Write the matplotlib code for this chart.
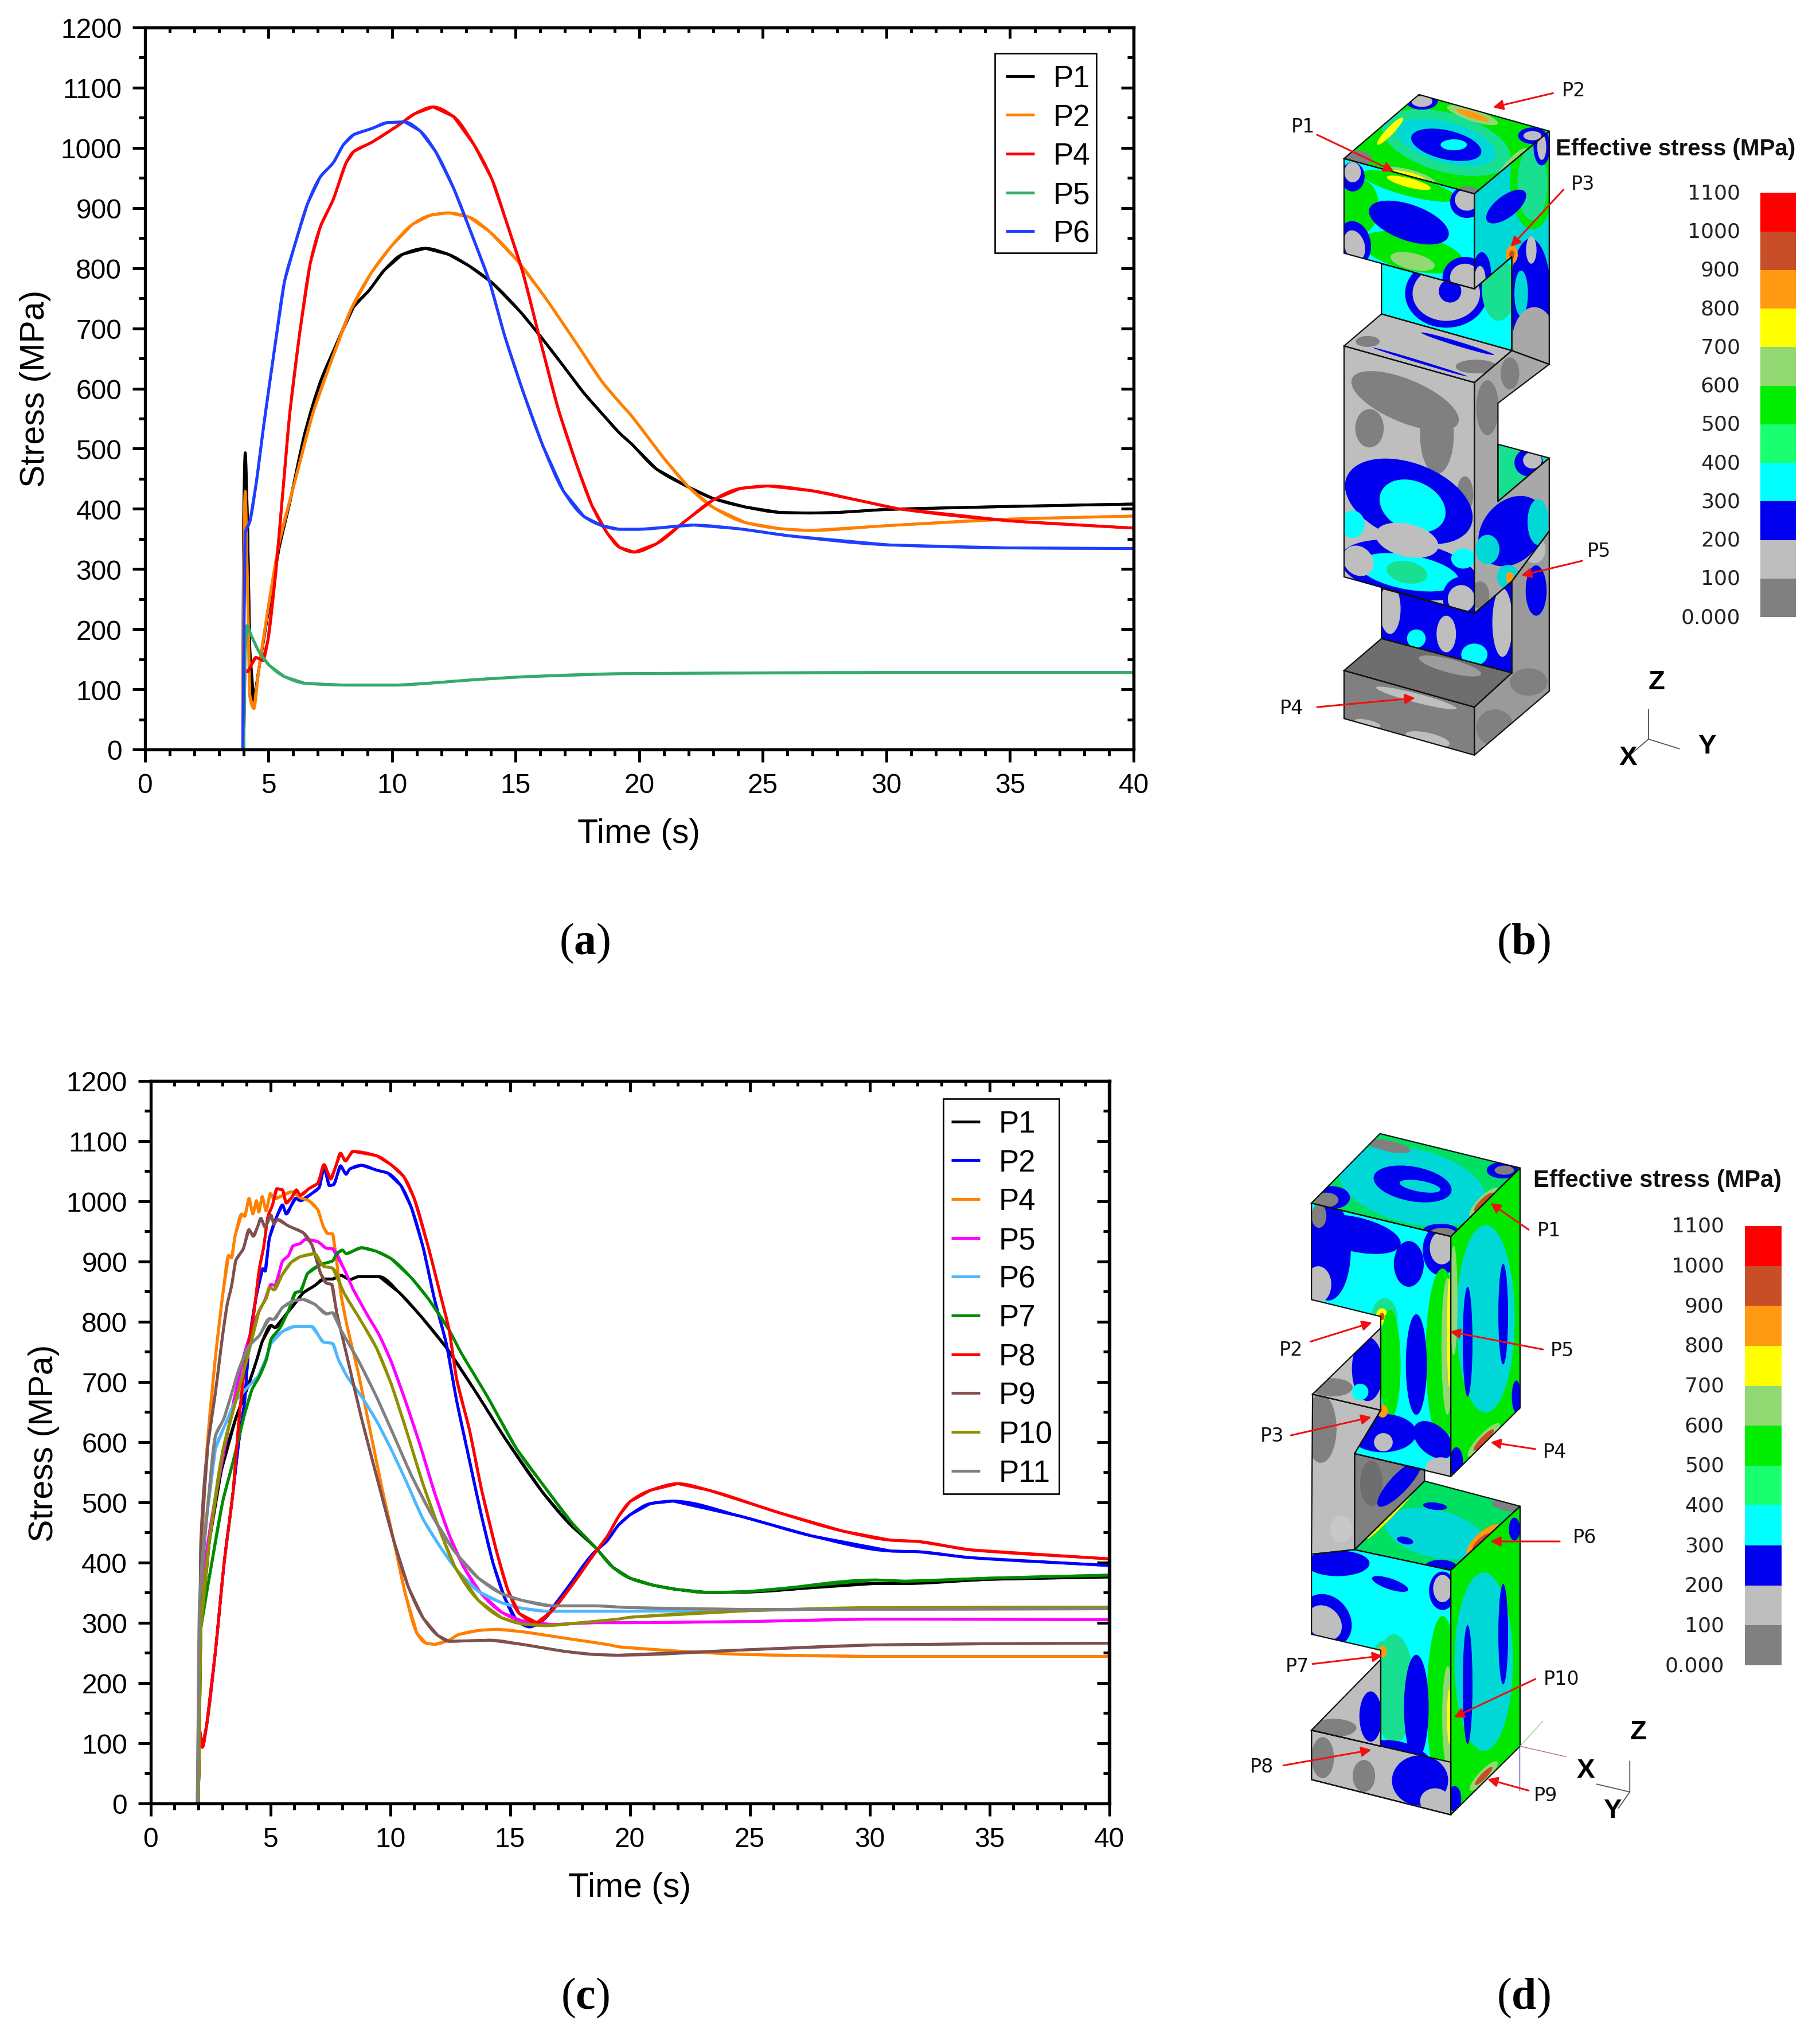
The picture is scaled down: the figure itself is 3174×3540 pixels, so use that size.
import matplotlib
matplotlib.use("Agg")
import matplotlib.pyplot as plt
from matplotlib.patches import Polygon, Ellipse, Rectangle, PathPatch
from matplotlib.path import Path

plt.rcParams['font.family'] = ['Liberation Sans', 'DejaVu Sans']
plt.rcParams['mathtext.fontset'] = 'custom'
plt.rcParams['mathtext.rm'] = 'Liberation Serif'
plt.rcParams['mathtext.bf'] = 'Liberation Serif:bold'

W, H = 3174, 3541
DPI = 100

# ---------- chart (a) ----------
a_labels = ['P1', 'P2', 'P4', 'P5', 'P6']
a_colors = ['#000000', '#FF8000', '#FF0000', '#36AB6B', '#1F3FFF']
a_p1_t = [3.97, 3.99, 4.06, 4.15, 4.25, 4.41, 4.61, 5.03, 5.44, 5.86, 6.48, 7.1, 7.72, 8.45, 9.07, 9.69, 10.42, 11.35,
          12.28, 13.11, 14.04, 15.18, 16.0, 16.94, 17.77, 18.5, 19.2, 19.66, 20.7, 22.0, 23.0, 24.3, 25.7, 26.9, 28.0, 30.0, 35.0, 40.0]
a_p1_s = [0, 360, 493, 383, 163, 80, 133, 239, 337, 410, 527, 611, 671, 736, 763, 797, 823, 833,
          823, 804, 776, 728, 687, 637, 592, 558, 526, 509, 466, 436, 417, 403, 394, 393, 394, 399, 404, 408]
a_p2_t = [3.97, 3.99, 4.06, 4.15, 4.25, 4.41, 4.61, 5.03, 5.44, 6.06, 6.79, 7.5, 8.34, 9.17, 10.0, 10.83, 11.55, 12.28,
          13.11, 13.94, 15.08, 16.2, 17.46, 18.5, 19.2, 19.66, 21.0, 22.0, 23.0, 24.3, 25.7, 26.9, 30.0, 35.0, 40.0]
a_p2_s = [0, 300, 429, 277, 87, 68, 133, 246, 345, 444, 558, 641, 732, 793, 838, 873, 888, 892,
          885, 861, 812, 751, 675, 611, 577, 556, 484, 436, 402, 377, 367, 364, 372, 383, 388]
a_p4_t = [4.0, 4.05, 4.15, 4.3, 4.49, 4.77, 4.98, 5.29, 5.55, 5.86, 6.27, 6.69, 7.1, 7.62, 8.14, 8.45, 9.17, 10.2, 10.93, 11.66,
          12.49, 13.32, 14.04, 14.66, 15.29, 16.0, 16.73, 17.46, 18.08, 18.7, 19.2, 19.8, 20.7, 21.9, 23.0, 24.1, 25.2, 27.0, 29.0, 30.5, 35.0, 40.0]
a_p4_s = [0, 132, 129, 140, 153, 148, 182, 292, 413, 558, 694, 808, 869, 914, 975, 994, 1009, 1036, 1057, 1068,
          1052, 1005, 948, 873, 793, 679, 565, 474, 406, 360, 336, 328, 342, 381, 415, 434, 438, 430, 413, 400, 380, 368]
a_p5_t = [4.0, 4.06, 4.13, 4.3, 4.61, 5.03, 5.65, 6.48, 8.14, 10.2, 11.76, 13.32, 15.4, 19.2, 30.0, 40.0]
a_p5_s = [0, 163, 206, 190, 163, 140, 121, 110, 107, 107, 111, 116, 121, 126, 128, 128]
a_p6_t = [3.96, 4.06, 4.25, 4.51, 4.82, 5.24, 5.65, 6.06, 6.58, 7.1, 7.62, 8.03, 8.45, 9.17, 9.8, 10.52, 11.14, 11.76,
          12.49, 13.32, 13.94, 14.56, 15.29, 16.1, 16.94, 17.77, 18.5, 19.2, 20.0, 22.2, 24.0, 26.1, 30.1, 35.0, 40.0]
a_p6_s = [0, 360, 379, 444, 542, 664, 778, 838, 907, 952, 975, 1005, 1022, 1032, 1042, 1043, 1028, 994,
          933, 846, 778, 687, 596, 505, 429, 387, 372, 366, 366, 373, 367, 355, 340, 335, 334]

# ---------- chart (c) ----------
c_labels = ['P1', 'P2', 'P4', 'P5', 'P6', 'P7', 'P8', 'P9', 'P10', 'P11']
c_colors = ['#000000', '#0000FF', '#FF8000', '#FF00FF', '#4DB8FF', '#008C00', '#FF0000', '#804F4F', '#8F8F00', '#808080']
c_p1_t = [2.0, 2.1, 2.46, 2.95, 3.56, 4.05, 4.42, 4.66, 5.03, 5.2, 5.57, 6.0, 6.37, 6.85, 7.22, 7.6, 7.95, 8.32, 8.68, 9.54,
          10.39, 11.24, 12.34, 13.56, 14.78, 16.37, 17.46, 18.56, 19.29, 20.0, 21.0, 22.0, 23.3, 25.0, 30.2, 31.5, 35.0, 40.0]
c_p1_s = [0, 290, 436, 552, 640, 691, 735, 767, 794, 790, 808, 829, 848, 860, 871, 871, 877, 870, 875, 875,
          848, 811, 757, 684, 607, 516, 465, 425, 392, 374, 362, 355, 350, 351, 365, 365, 372, 376]
c_p2_t = [2.0, 2.04, 2.16, 2.34, 2.71, 3.07, 3.44, 3.68, 3.93, 4.11, 4.42, 4.68, 4.78, 4.96, 5.27, 5.51, 5.66, 6.06, 6.25, 6.73, 7.04, 7.24, 7.46, 7.65, 7.93, 8.16, 8.32, 8.8, 9.42, 9.9,
          10.45, 10.88, 11.37, 11.85, 12.34, 12.77, 13.32, 13.8, 14.29, 14.78, 15.27, 15.82, 16.37, 17.34, 18.44, 19.05, 19.52, 20.0, 20.86, 21.8, 24.6, 27.6, 30.9, 32.0, 34.2, 40.0]
c_p2_s = [0, 122, 93, 129, 253, 399, 516, 600, 669, 764, 844, 888, 884, 939, 975, 994, 979, 1005, 1001, 1013, 1023, 1057, 1026, 1028, 1059, 1045, 1054, 1060, 1052, 1047,
          1026, 990, 924, 837, 764, 669, 567, 479, 399, 341, 304, 293, 304, 355, 414, 436, 462, 479, 498, 502, 477, 444, 419, 418, 408, 395]
c_p4_t = [2.0, 2.1, 2.34, 2.71, 3.01, 3.26, 3.38, 3.53, 3.81, 3.93, 4.11, 4.27, 4.42, 4.52, 4.66, 4.82, 5.0, 5.15, 5.9, 6.25, 6.61, 6.98, 7.22, 7.4, 7.6, 7.71, 7.95, 8.2, 8.68, 9.17, 9.66, 10.15, 10.63,
          11.12, 11.49, 11.85, 12.46, 12.83, 13.68, 14.42, 15.5, 17.34, 19.17, 19.52, 21.9, 24.9, 30.0, 40.0]
c_p4_s = [0, 399, 581, 742, 844, 910, 906, 943, 979, 975, 1005, 979, 1001, 982, 1008, 984, 1013, 1004, 1016, 1006, 1001, 986, 957, 946, 946, 917, 844, 793, 713, 618, 523, 436, 348,
          282, 266, 264, 271, 280, 287, 289, 285, 274, 263, 260, 253, 247, 244, 244]
c_p5_t = [2.0, 2.1, 2.46, 2.95, 3.44, 3.93, 4.42, 4.78, 5.03, 5.2, 5.51, 5.76, 5.94, 6.25, 6.46, 6.98, 7.34, 7.6, 8.07, 8.44, 9.05, 9.54, 10.03, 10.63, 11.24, 11.85, 12.46, 13.07, 13.8, 14.66, 15.5, 16.73, 18.56, 20.0, 25.0, 30.2, 40.0]
c_p5_s = [0, 326, 450, 560, 662, 749, 808, 837, 862, 860, 901, 910, 926, 930, 937, 933, 922, 921, 888, 855, 811, 778, 735, 669, 596, 516, 446, 392, 348, 317, 303, 297, 300, 300, 302, 306, 305]
c_p6_t = [2.0, 2.1, 2.34, 2.71, 3.07, 3.56, 4.05, 4.48, 4.78, 5.03, 5.51, 6.0, 6.73, 7.22, 7.6, 7.83, 8.2, 8.8, 9.42, 10.03, 10.63, 11.37, 12.1, 12.83, 13.68, 14.66, 15.5, 16.49, 17.95, 20.0, 30.0, 40.0]
c_p6_s = [0, 363, 472, 589, 625, 669, 691, 709, 735, 764, 784, 792, 792, 766, 764, 738, 709, 676, 636, 589, 538, 472, 425, 385, 352, 333, 324, 319, 319, 319, 323, 323]
c_p7_t = [2.0, 2.1, 2.46, 3.01, 3.44, 3.93, 4.23, 4.54, 4.84, 5.03, 5.39, 5.76, 6.06, 6.25, 6.55, 7.1, 7.6, 7.77, 8.01, 8.16, 8.8, 9.42, 10.03, 10.88, 11.61, 12.46, 12.95, 14.05, 15.27, 16.49, 17.6, 18.56, 19.29, 20.0, 21.0, 22.0, 23.3, 25.0, 30.2, 31.5, 35.0, 40.0]
c_p7_s = [0, 290, 377, 501, 567, 647, 687, 709, 738, 771, 789, 819, 849, 850, 880, 895, 901, 913, 919, 913, 923, 917, 905, 873, 837, 786, 749, 676, 589, 523, 465, 425, 392, 374, 362, 355, 350, 352, 371, 369, 374, 379]
c_p8_t = [2.0, 2.04, 2.16, 2.34, 2.71, 3.07, 3.44, 3.68, 3.93, 4.29, 4.54, 4.72, 4.9, 5.09, 5.27, 5.51, 5.66, 5.88, 6.09, 6.25, 6.61, 6.98, 7.24, 7.52, 7.71, 7.93, 8.13, 8.44, 9.42, 10.03, 10.57,
          11.0, 11.61, 12.1, 12.46, 12.77, 13.32, 13.8, 14.42, 14.9, 15.39, 16.12, 16.73, 17.6, 18.56, 19.05, 19.52, 20.0, 20.86, 22.0, 23.3, 26.2, 28.9, 30.9, 32.0, 34.2, 40.0]
c_p8_s = [0, 122, 93, 129, 253, 399, 516, 632, 727, 808, 888, 924, 975, 994, 1021, 1019, 997, 1006, 1019, 1010, 1021, 1030, 1061, 1037, 1056, 1080, 1067, 1083, 1076, 1061, 1041,
          1005, 921, 844, 786, 705, 618, 523, 421, 355, 315, 300, 319, 363, 417, 443, 476, 501, 520, 531, 520, 483, 452, 437, 435, 421, 406]
c_p9_t = [2.0, 2.1, 2.4, 2.71, 3.01, 3.2, 3.38, 3.56, 3.87, 4.11, 4.29, 4.48, 4.6, 4.78, 5.03, 5.15, 5.29, 5.76, 6.37, 6.73, 7.1, 7.34, 7.56, 7.77, 8.2, 8.8, 9.42, 10.15, 10.76, 11.37, 11.98, 12.46, 13.32, 14.17, 15.5, 17.34, 18.56, 19.52, 24.9, 30.2, 35.0, 40.0]
c_p9_s = [0, 436, 596, 683, 778, 829, 859, 902, 921, 953, 942, 959, 972, 957, 977, 962, 970, 959, 948, 928, 880, 864, 862, 815, 742, 640, 545, 436, 359, 308, 279, 269, 270, 271, 264, 252, 247, 246, 255, 263, 265, 266]
c_p10_t = [2.0, 2.1, 2.46, 3.01, 3.56, 4.05, 4.54, 4.84, 4.96, 5.15, 5.51, 5.88, 6.25, 6.85, 7.22, 7.6, 8.07, 8.8, 9.42, 10.03, 10.63, 11.37, 12.1, 12.71, 13.68, 14.66, 15.5, 16.49, 17.95, 19.52, 20.0, 25.0, 30.0, 40.0]
c_p10_s = [0, 290, 436, 585, 669, 742, 819, 840, 857, 853, 879, 899, 908, 913, 892, 889, 848, 800, 757, 698, 625, 530, 450, 392, 337, 308, 298, 295, 300, 306, 309, 320, 325, 326]
c_p11_t = [1.95, 2.04, 2.4, 2.71, 3.05, 3.38, 3.68, 4.11, 4.54, 4.96, 5.15, 5.51, 6.0, 6.37, 6.85, 7.34, 7.6, 7.95, 8.68, 9.42, 10.15, 10.88, 11.73, 12.71, 13.68, 14.66, 15.5, 16.73, 18.56, 20.0, 25.0, 40.0]
c_p11_s = [0, 333, 500, 611, 638, 680, 720, 760, 777, 805, 804, 824, 835, 837, 829, 813, 815, 786, 735, 676, 611, 545, 479, 417, 374, 348, 337, 328, 328, 325, 322, 323]

x_ticks = [0, 5, 10, 15, 20, 25, 30, 35, 40]
x_minor = [t for t in range(0, 41) if t % 5]
y_ticks = list(range(0, 1201, 100))
y_minor = list(range(50, 1200, 100))

bands = ['#FF0000', '#C84E28', '#FF9A12', '#FFFF00', '#92D873', '#00EE00', '#19FF70', '#00FFFF', '#0000EE', '#BEBEBE', '#808080']
bar_labels = ['1100', '1000', '900', '800', '700', '600', '500', '400', '300', '200', '100', '0.000']

fig = plt.figure(figsize=(W / DPI, H / DPI), dpi=DPI, facecolor='white')


def px_axes(l, t, r, b):
    return fig.add_axes([l / W, 1 - b / H, (r - l) / W, (b - t) / H])


def smooth_path(tt, ss):
    """Bezier path through the read points, with monotone (no overshoot) tangents."""
    n = len(tt)
    d = [(ss[i + 1] - ss[i]) / (tt[i + 1] - tt[i]) for i in range(n - 1)]
    m = [d[0]] + [0.0] * (n - 2) + [d[-1]]
    for i in range(1, n - 1):
        if d[i - 1] * d[i] > 0:
            m[i] = 2 * d[i - 1] * d[i] / (d[i - 1] + d[i])
    verts = [(tt[0], ss[0])]
    codes = [Path.MOVETO]
    for i in range(n - 1):
        h = (tt[i + 1] - tt[i]) / 3
        verts += [(tt[i] + h, ss[i] + m[i] * h), (tt[i + 1] - h, ss[i + 1] - m[i + 1] * h), (tt[i + 1], ss[i + 1])]
        codes += [Path.CURVE4] * 3
    return Path(verts, codes)


def chart(box, series, labels, colors, legend_xy, frame):
    ax = px_axes(*box)
    for (tt, ss), lab, col in zip(series, labels, colors):
        ax.plot(tt, ss, color=col, lw=3.5, label=lab, solid_joinstyle='round', solid_capstyle='butt')
        ax.add_patch(PathPatch(smooth_path(tt, ss), fill=False, edgecolor=col, lw=3.5, zorder=2,
                               capstyle='butt', joinstyle='round'))
    ax.set_xlim(0, 40)
    ax.set_ylim(0, 1200)
    ax.set_xticks(x_ticks)
    ax.set_xticks(x_minor, minor=True)
    ax.set_yticks(y_ticks)
    ax.set_yticks(y_minor, minor=True)
    ax.tick_params(which='major', length=16, width=3.6, labelsize=34.5, pad=13, direction='out')
    ax.tick_params(which='minor', length=8, width=3.6, direction='out')
    for s in ax.spines.values():
        s.set_linewidth(3.8)
    top = ax.secondary_xaxis('top')
    top.set_xticks(x_ticks, labels=[])
    top.set_xticks(x_minor, minor=True)
    top.tick_params(which='major', direction='in', length=14, width=3.6)
    top.tick_params(which='minor', direction='in', length=6.5, width=3.6)
    right = ax.secondary_yaxis('right')
    right.set_yticks(y_ticks, labels=[])
    right.set_yticks(y_minor, minor=True)
    right.tick_params(which='major', direction='in', length=16, width=3.6)
    right.tick_params(which='minor', direction='in', length=8, width=3.6)
    for sec in (top, right):
        for s in sec.spines.values():
            s.set_linewidth(3.8)
    ax.legend(loc='upper left', bbox_to_anchor=legend_xy, bbox_transform=fig.transFigure,
              fontsize=38, frameon=False, borderaxespad=0, handlelength=0.95, handletextpad=0.62,
              labelspacing=0.335, borderpad=0.36)
    x0, y0, x1, y1 = frame
    fig.add_artist(Rectangle((x0 / W, 1 - y1 / H), (x1 - x0) / W, (y1 - y0) / H, transform=fig.transFigure,
                             fill=False, edgecolor='black', lw=1.9, zorder=5))
    return ax


a_series = [(a_p1_t, a_p1_s), (a_p2_t, a_p2_s), (a_p4_t, a_p4_s), (a_p5_t, a_p5_s), (a_p6_t, a_p6_s)]
c_series = [(c_p1_t, c_p1_s), (c_p2_t, c_p2_s), (c_p4_t, c_p4_s), (c_p5_t, c_p5_s), (c_p6_t, c_p6_s),
            (c_p7_t, c_p7_s), (c_p8_t, c_p8_s), (c_p9_t, c_p9_s), (c_p10_t, c_p10_s), (c_p11_t, c_p11_s)]

chart((252.6, 49, 1977, 1308), a_series, a_labels, a_colors, (1735 / W, 1 - 94 / H), (1735, 94, 1912, 442))
chart((262.5, 1886, 1934.5, 3145.6), c_series, c_labels, c_colors, (1640 / W, 1 - 1917 / H), (1645, 1917, 1847, 2606))


def ftext(x, y, s, **kw):
    fig.text(x / W, 1 - y / H, s, ha=kw.pop('ha', 'center'), va=kw.pop('va', 'center'), **kw)


ftext(62, 678, 'Stress (MPa)', rotation=90, fontsize=42.5)
ftext(1114, 1455, 'Time (s)', fontsize=42.5)
ftext(77, 2517, 'Stress (MPa)', rotation=90, fontsize=42.5)
ftext(1098, 3293, 'Time (s)', fontsize=42.5)

for x, y, c in [(1020, 1645, 'a'), (2657, 1645, 'b'), (1020, 3484, 'c'), (2657, 3484, 'd')]:
    ftext(x, y, '(' + r'$\mathbf{' + c + '}$' + ')', fontsize=56, family='Liberation Serif')

# ---------- FE contour illustrations ----------
BLUE, CYAN, DCYAN, SPRING = '#0000EE', '#00FFFF', '#00D8D8', '#19E090'
GREEN, LG, YEL, ORG, BRICK = '#00E800', '#92D873', '#FFFF00', '#FF9A12', '#C84E28'
GRY, DGR, DDG = '#BEBEBE', '#808080', '#6E6E6E'


def face(ax, poly, base, blobs=()):
    p = Polygon(poly, closed=True, facecolor=base, edgecolor='none', zorder=1)
    ax.add_patch(p)
    for cx, cy, rx, ry, ang, col in blobs:
        e = Ellipse((cx, cy), 2 * rx, 2 * ry, angle=ang, facecolor=col, edgecolor='none', zorder=1)
        ax.add_patch(e)
        e.set_clip_path(p)
    ax.add_patch(Polygon(poly, closed=True, fill=False, edgecolor='#111111', lw=1.6, zorder=2))


def pic_axes(x0, y0):
    ax = px_axes(x0, y0, x0 + 1024, y0 + 1250)
    ax.set_xlim(0, 1568)
    ax.set_ylim(1568, 0)
    ax.axis('off')
    return ax


def arrow(ax, a, b):
    ax.annotate('', xy=b, xytext=a, zorder=5,
                arrowprops=dict(arrowstyle='-|>', color='#F01010', lw=2.2, mutation_scale=26, shrinkA=0, shrinkB=0))


def colorbar(ax, x0, x1, y0, y1, lab_x, title_xy, title_fs):
    n = len(bands)
    h = (y1 - y0) / n
    for i, c in enumerate(bands):
        ax.add_patch(Rectangle((x0, y0 + i * h), x1 - x0, h, facecolor=c, edgecolor='none'))
    for i, s in enumerate(bar_labels):
        ax.text(lab_x, y0 + i * h, s, ha='right', va='center', fontsize=26, color='#222222', family='DejaVu Sans')
    ax.text(title_xy[0], title_xy[1], 'Effective stress (MPa)', ha='right', va='center',
            fontsize=title_fs, fontweight='bold', color='#111111')


# (b)
bx = pic_axes(2150, 130)
face(bx, [(397, 415), (645, 470), (745, 400), (745, 605), (397, 525)], CYAN,
     [(570, 480, 110, 75, 0, BLUE), (570, 480, 90, 60, 0, GRY), (580, 475, 30, 25, 0, BLUE), (710, 470, 45, 70, 0, SPRING),
      (500, 560, 150, 12, 12, GREEN)])
face(bx, [(645, 262), (845, 125), (845, 635), (745, 605), (745, 400), (645, 470)], DCYAN,
     [(800, 230, 60, 110, 0, GREEN), (800, 240, 40, 80, 0, SPRING), (730, 290, 60, 25, -30, BLUE), (665, 440, 25, 50, 0, BLUE), (660, 450, 15, 30, 0, GRY),
      (825, 160, 22, 40, 0, BLUE), (825, 160, 12, 28, 0, GRY), (795, 490, 55, 130, 0, BLUE), (797, 385, 14, 30, 0, GRY), (770, 480, 18, 50, 0, DCYAN),
      (805, 590, 60, 80, 0, '#A8A8A8'), (745, 395, 16, 20, 0, ORG), (745, 395, 7, 9, 0, BRICK)])
face(bx, [(297, 185), (497, 45), (845, 125), (645, 262)], GREEN,
     [(570, 150, 175, 65, 12, SPRING), (570, 150, 135, 45, 12, DCYAN), (570, 155, 95, 32, 10, BLUE), (590, 155, 35, 12, 0, CYAN),
      (640, 90, 70, 13, 15, LG), (640, 90, 45, 7, 15, ORG), (420, 125, 45, 9, -40, YEL), (745, 195, 50, 11, -40, LG),
      (505, 60, 42, 18, 0, BLUE), (505, 60, 28, 12, 0, GRY), (800, 135, 38, 18, 0, BLUE), (800, 135, 24, 10, 0, GRY),
      (330, 185, 40, 18, 0, DGR), (470, 225, 75, 16, 12, LG), (470, 225, 50, 10, 12, YEL), (625, 262, 35, 16, 0, DGR)])
face(bx, [(297, 185), (645, 262), (645, 470), (297, 392)], CYAN,
     [(340, 290, 50, 60, 0, GREEN), (470, 245, 130, 22, 12, GREEN), (470, 238, 60, 10, 12, YEL), (480, 390, 140, 40, 10, GREEN), (480, 410, 60, 18, 10, LG),
      (470, 325, 110, 40, 15, BLUE), (320, 225, 32, 32, 0, BLUE), (320, 215, 22, 22, 0, GRY),
      (325, 370, 42, 50, -30, BLUE), (325, 375, 26, 35, -30, GRY), (620, 445, 60, 45, 0, BLUE), (620, 445, 40, 30, 0, GRY),
      (625, 280, 45, 35, 0, BLUE), (625, 275, 32, 24, 0, GRY)])
face(bx, [(297, 595), (397, 525), (745, 605), (645, 675)], GRY,
     [(360, 585, 32, 12, 0, DGR), (650, 640, 55, 15, 0, DGR), (500, 630, 130, 3, 14, BLUE), (600, 590, 100, 5, 14, BLUE)])
face(bx, [(645, 675), (745, 605), (845, 635), (708, 720), (708, 810), (708, 935), (845, 840), (845, 1000), (745, 1110), (645, 1180)], '#A8A8A8',
     [(680, 730, 30, 60, 0, DGR), (740, 655, 25, 35, 0, DGR), (745, 1000, 95, 70, -30, BLUE), (815, 980, 28, 50, 0, DCYAN), (680, 1040, 32, 32, 0, DCYAN),
      (735, 1100, 30, 26, 0, DCYAN), (740, 1102, 11, 13, 0, ORG), (660, 1140, 25, 30, 0, DGR)])
face(bx, [(708, 810), (845, 840), (708, 935)], SPRING, [(790, 850, 38, 30, 0, BLUE), (800, 845, 25, 18, 0, GRY)])
face(bx, [(745, 1110), (845, 1000), (845, 1350), (645, 1490), (645, 1385), (745, 1310)], '#9A9A9A',
     [(810, 1130, 28, 55, 0, BLUE), (805, 1040, 30, 30, 0, GRY), (790, 1330, 50, 30, 0, DGR), (700, 1430, 50, 40, 0, DGR)])
face(bx, [(297, 595), (645, 675), (645, 1180), (297, 1100)], GRY,
     [(460, 715, 150, 48, 18, DGR), (365, 775, 38, 42, 0, DGR), (545, 790, 45, 85, 0, DGR), (620, 920, 22, 40, 0, DGR),
      (470, 935, 175, 85, 15, BLUE), (480, 945, 90, 55, 15, CYAN), (320, 985, 32, 30, 0, CYAN),
      (470, 1085, 185, 62, 8, BLUE), (470, 1090, 135, 38, 8, CYAN), (465, 1090, 55, 24, 8, SPRING), (465, 1020, 85, 36, 10, GRY),
      (610, 1145, 50, 45, 0, BLUE), (610, 1148, 36, 30, 0, GRY), (335, 1065, 42, 32, 20, GRY), (615, 1060, 32, 22, 0, CYAN)])
face(bx, [(397, 1125), (645, 1180), (745, 1110), (745, 1310), (397, 1235)], BLUE,
     [(420, 1170, 28, 55, 0, GRY), (570, 1225, 26, 40, 0, GRY), (720, 1200, 27, 75, 0, GRY), (645, 1270, 35, 24, 0, CYAN), (490, 1235, 25, 20, 0, CYAN)])
face(bx, [(297, 1305), (397, 1235), (745, 1310), (645, 1385)], DDG, [(580, 1295, 85, 15, 12, '#9C9C9C')])
face(bx, [(297, 1305), (645, 1385), (645, 1490), (297, 1410)], DGR,
     [(490, 1365, 110, 10, 12, GRY), (520, 1455, 60, 14, 10, GRY), (360, 1420, 35, 7, 10, GRY)])
for a, b in [((225, 133), (430, 213)), ((855, 42), (695, 73)), ((883, 253), (742, 378)), ((225, 1385), (487, 1365)), ((933, 1065), (770, 1097))]:
    arrow(bx, a, b)
for x, y, s in [(187, 115, 'P1'), (910, 36, 'P2'), (935, 240, 'P3'), (157, 1387, 'P4'), (978, 1043, 'P5')]:
    bx.text(x, y, s, ha='center', va='center', fontsize=24, family='DejaVu Sans', color='#111111')
colorbar(bx, 1408, 1503, 260, 1188, 1355, (1503, 163), 29)
bx.plot([1110, 1110, 1192], [1390, 1455, 1476], color='#555555', lw=1.3)
bx.plot([1110, 1060], [1455, 1490], color='#555555', lw=1.3)
for x, y, s in [(1131, 1330, 'Z'), (1267, 1470, 'Y'), (1055, 1495, 'X')]:
    bx.text(x, y, s, ha='center', va='center', fontsize=34, fontweight='bold', color='black')

# (d)
dx = pic_axes(2150, 1950)
face(dx, [(213, 605), (395, 640), (325, 735), (325, 945), (210, 955)], GRY,
     [(235, 680, 42, 75, 0, DGR), (290, 900, 30, 30, 0, '#C8C8C8')])
face(dx, [(213, 605), (395, 460), (395, 640)], GRY, [(360, 550, 42, 70, 0, BLUE), (265, 590, 55, 20, 0, DGR), (340, 600, 22, 18, 0, CYAN)])
face(dx, [(325, 735), (512, 770), (512, 795), (325, 945)], DGR, [(370, 800, 30, 50, 0, DDG), (445, 800, 75, 22, -40, BLUE)])
face(dx, [(210, 187), (582, 260), (582, 785), (325, 735), (395, 640), (395, 435), (210, 398)], CYAN,
     [(255, 290, 60, 110, 0, BLUE), (325, 255, 125, 38, 10, BLUE), (470, 320, 40, 50, 0, BLUE), (228, 365, 35, 40, 0, GRY), (230, 215, 20, 26, 0, DGR),
      (555, 290, 48, 55, 0, BLUE), (558, 285, 32, 36, 0, GRY), (560, 520, 45, 190, 0, GREEN), (573, 500, 16, 150, 0, LG), (578, 470, 6, 120, 0, YEL),
      (405, 440, 35, 45, 0, SPRING), (398, 435, 16, 18, 0, YEL), (398, 435, 7, 8, 0, BRICK), (420, 540, 28, 120, 0, GREEN),
      (490, 540, 28, 110, 0, BLUE), (400, 690, 90, 42, 0, BLUE), (402, 710, 25, 20, 0, GRY), (535, 705, 58, 34, 30, BLUE), (555, 765, 40, 22, 0, GRY),
      (400, 642, 14, 14, 0, ORG)])
face(dx, [(582, 260), (767, 110), (767, 635), (582, 785)], GREEN,
     [(675, 440, 78, 205, 0, DCYAN), (627, 490, 13, 120, 0, BLUE), (722, 430, 13, 110, 0, BLUE), (670, 705, 55, 14, -40, LG), (670, 705, 35, 8, -40, BRICK),
      (597, 755, 18, 34, 0, BLUE), (757, 610, 12, 35, 0, BLUE), (590, 400, 10, 120, 0, LG)])
face(dx, [(210, 187), (393, 35), (767, 110), (582, 260)], '#00E060',
     [(480, 150, 200, 82, 10, DCYAN), (480, 145, 105, 38, 8, BLUE), (500, 150, 55, 12, 8, DCYAN), (415, 62, 60, 12, 10, DGR),
      (720, 115, 42, 18, 0, BLUE), (725, 115, 26, 10, 0, DGR), (670, 185, 48, 14, -38, LG), (670, 185, 32, 9, -38, BRICK),
      (265, 175, 48, 25, 0, BLUE), (250, 180, 32, 16, 0, DGR), (555, 250, 50, 18, 0, BLUE), (560, 252, 34, 11, 0, DGR)])
face(dx, [(210, 1340), (395, 1185), (395, 1375)], GRY, [(270, 1335, 60, 20, 0, DGR), (368, 1310, 30, 55, 0, BLUE)])
face(dx, [(582, 990), (767, 850), (767, 1375), (582, 1525)], GREEN,
     [(670, 1190, 78, 195, 0, DCYAN), (627, 1240, 13, 130, 0, BLUE), (722, 1130, 13, 110, 0, BLUE), (670, 1440, 48, 13, -40, LG), (670, 1440, 30, 7, -40, BRICK),
      (592, 1490, 18, 28, 0, BLUE), (752, 900, 15, 25, 0, BLUE)])
face(dx, [(325, 945), (512, 795), (767, 850), (582, 990)], '#00E060',
     [(540, 910, 135, 52, 10, DCYAN), (540, 850, 32, 8, 5, BLUE), (460, 925, 22, 8, 10, BLUE), (670, 925, 55, 20, -35, ORG), (665, 928, 30, 10, -35, BRICK),
      (730, 850, 40, 10, 10, DGR), (420, 870, 80, 6, -40, YEL), (555, 985, 45, 18, 0, BLUE)])
face(dx, [(210, 955), (325, 945), (582, 990), (582, 1525), (210, 1448), (210, 1340), (395, 1375), (395, 1165), (210, 1130)], CYAN,
     [(560, 1035, 36, 42, 0, BLUE), (560, 1030, 25, 30, 0, GRY), (280, 975, 85, 28, 0, BLUE), (560, 1280, 42, 190, 0, GREEN), (574, 1310, 15, 110, 0, LG), (578, 1310, 6, 60, 0, YEL),
      (430, 1250, 55, 120, 0, SPRING), (403, 1172, 26, 28, 0, SPRING), (400, 1168, 11, 13, 0, ORG), (490, 1290, 33, 115, 0, BLUE),
      (250, 1100, 70, 55, 25, BLUE), (245, 1105, 48, 36, 25, GRY), (430, 1425, 115, 62, 8, BLUE), (310, 1410, 105, 48, 8, GRY), (540, 1490, 45, 30, 0, GRY),
      (420, 1020, 50, 12, 15, BLUE)])
face(dx, [(210, 1340), (395, 1375), (582, 1410), (582, 1525), (210, 1448)], GRY,
     [(240, 1400, 30, 45, 0, DGR), (350, 1440, 30, 35, 0, DGR), (500, 1450, 75, 55, 0, BLUE), (540, 1495, 40, 28, 0, GRY)])
dx.plot([767, 890], [1375, 1398], color='#B07070', lw=1)
dx.plot([767, 828], [1375, 1320], color='#90D890', lw=1)
dx.plot([765, 765], [1375, 1472], color='#4040C0', lw=1)
for a, b in [((790, 245), (688, 187)), ((828, 507), (580, 468)), ((207, 490), (372, 448)), ((808, 725), (688, 710)), ((155, 695), (370, 655)),
             ((873, 927), (688, 927)), ((213, 1195), (400, 1177)), ((808, 1228), (590, 1312)), ((135, 1417), (370, 1383)), ((790, 1472), (680, 1447))]:
    arrow(dx, a, b)
for x, y, s in [(845, 247, 'P1'), (880, 509, 'P5'), (155, 507, 'P2'), (860, 731, 'P4'), (105, 696, 'P3'), (940, 918, 'P6'),
                (172, 1200, 'P7'), (877, 1227, 'P10'), (77, 1419, 'P8'), (835, 1482, 'P9')]:
    dx.text(x, y, s, ha='center', va='center', fontsize=24, family='DejaVu Sans', color='#111111')
colorbar(dx, 1368, 1466, 237, 1198, 1312, (1466, 137), 30)
dx.plot([1060, 1060, 972], [1408, 1475, 1458], color='#555555', lw=1.3)
dx.plot([1060, 1030], [1475, 1510], color='#555555', lw=1.3)
for x, y, s in [(1082, 1343, 'Z'), (942, 1428, 'X'), (1013, 1515, 'Y')]:
    dx.text(x, y, s, ha='center', va='center', fontsize=34, fontweight='bold', color='black')

fig.savefig('out.png', dpi=DPI, facecolor='white')
